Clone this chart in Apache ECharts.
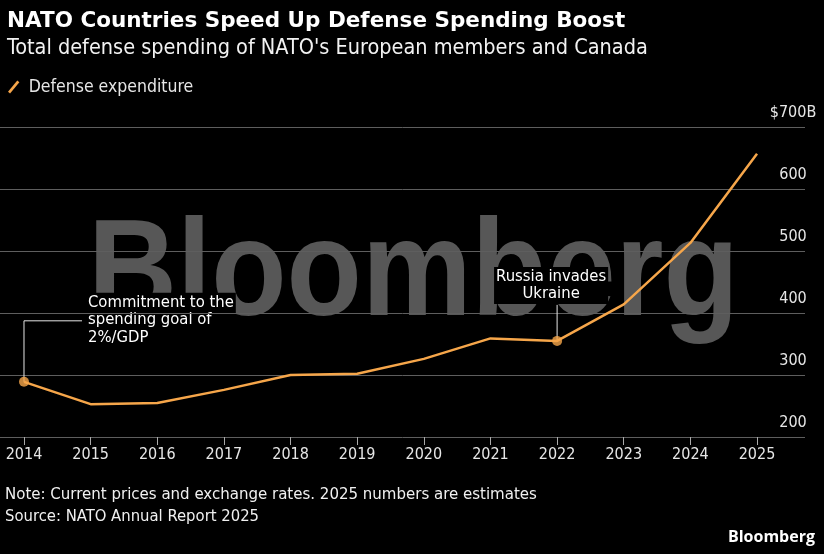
<!DOCTYPE html>
<html>
<head>
<meta charset="utf-8">
<script src="https://cdn.jsdelivr.net/npm/echarts@6/dist/echarts.min.js"></script>
<style>
html,body{margin:0;padding:0;background:#000;}
#c{width:824px;height:554px;}
</style>
</head>
<body>
<div id="c"></div>
<script>
var years = [2014, 2015, 2016, 2017, 2018, 2019, 2020, 2021, 2022, 2023, 2024, 2025];
var spending = [289, 253, 255, 276, 300, 302, 326, 359, 355, 414, 513, 657];
var yTicks = [200, 300, 400, 500, 600, 700];
var annotations = [
  {year: 2014, text: 'Commitment to the\nspending goal of\n2%/GDP'},
  {year: 2022, text: 'Russia invades\nUkraine'}
];

var FONT = "'DejaVu Sans Condensed', 'DejaVu Sans', sans-serif";
var ORANGE = '#F6A64A';

var chart = echarts.init(document.getElementById('c'), null, {renderer: 'canvas'});

var lineData = years.map(function (y, i) { return [y, spending[i]]; });
var annotData = annotations.map(function (a) {
  return [a.year, spending[years.indexOf(a.year)]];
});

var option = {
  backgroundColor: '#000',
  animation: false,
  title: {
    text: 'NATO Countries Speed Up Defense Spending Boost',
    subtext: "Total defense spending of NATO's European members and Canada",
    left: 2, top: 5,
    itemGap: 5,
    textStyle: {color: '#fff', fontFamily: "'DejaVu Sans', sans-serif", fontWeight: 'bold', fontSize: 21.5},
    subtextStyle: {color: '#f2f2f2', fontFamily: FONT, fontSize: 21.5}
  },
  legend: {
    left: 3, top: 73,
    itemWidth: 12, itemHeight: 13, itemGap: 10,
    data: [{name: 'Defense expenditure', icon: 'path://M0,11 L9,0 L11,1.6 L2,12.6 Z'}],
    textStyle: {color: '#e6e6e6', fontFamily: FONT, fontSize: 17.5, padding: [0, 0, 0, 4]}
  },
  grid: {left: 0, right: 19, top: 127, bottom: 117, containLabel: false},
  xAxis: {
    type: 'value',
    min: 2013.64, max: 2025.72,
    axisLine: {show: false},
    splitLine: {show: false},
    axisTick: {show: true, length: 8, customValues: years, lineStyle: {color: '#aaa', width: 1}},
    axisLabel: {customValues: years, color: '#e6e6e6', fontFamily: FONT, fontSize: 16, margin: 10,
      formatter: function (v) { return String(v); }}
  },
  yAxis: {
    type: 'value',
    position: 'right',
    min: 200, max: 700, interval: 100,
    axisLine: {show: false},
    axisTick: {show: false},
    splitLine: {show: true, lineStyle: {color: '#5e5e5e', width: 1}},
    axisLabel: {
      inside: true, align: 'center', verticalAlign: 'bottom', margin: 12,
      padding: [0, 0, 6, 0],
      color: '#e6e6e6', fontFamily: FONT, fontSize: 16,
      formatter: function (v) { return v === 700 ? '$700B' : String(v); }
    }
  },
  graphic: [
    {
      type: 'text', x: 88, y: 209, scaleX: 0.9, z: -10, silent: true,
      style: {text: 'Bloomberg', fill: '#575757', font: 'bold 137px "Liberation Sans", Arial, sans-serif'}
    },
    {
      type: 'text', left: 5, top: 486,
      style: {text: 'Note: Current prices and exchange rates. 2025 numbers are estimates', fill: '#f0f0f0', font: '16.7px ' + FONT}
    },
    {
      type: 'text', left: 5, top: 508,
      style: {text: 'Source: NATO Annual Report 2025', fill: '#f0f0f0', font: '16.5px ' + FONT}
    },
    {
      type: 'text', right: 9, top: 529,
      style: {text: 'Bloomberg', fill: '#fff', font: 'bold 16px "Open Sans", ' + FONT}
    }
  ],
  series: [
    {
      name: 'Defense expenditure',
      type: 'line',
      data: lineData,
      symbol: 'none',
      itemStyle: {color: ORANGE},
      lineStyle: {color: ORANGE, width: 2.5},
      z: 3
    },
    {
      name: 'annot',
      type: 'scatter',
      data: annotData,
      symbol: 'circle',
      symbolSize: 10,
      itemStyle: {color: ORANGE},
      z: 4
    }
  ]
};
chart.setOption(option);

// annotations anchored to data points
var p0 = chart.convertToPixel({gridIndex: 0}, annotData[0]);
var p1 = chart.convertToPixel({gridIndex: 0}, annotData[1]);
var extra = option.graphic.slice();
extra.push(
  {type: 'polyline', z: 1, silent: true,
   shape: {points: [[p0[0], p0[1]], [p0[0], p0[1] - 61], [p0[0] + 58, p0[1] - 61]]},
   style: {stroke: '#e6e6e6', lineWidth: 1, fill: null}},
  {type: 'text', x: p0[0] + 62, y: p0[1] - 89, z: -5,
   style: {text: annotations[0].text, fill: '#fff', font: '16.5px ' + FONT, lineHeight: 17.5,
           verticalAlign: 'top', backgroundColor: '#000', padding: [1, 2, 1, 2]}},
  {type: 'line', z: 1, silent: true,
   shape: {x1: p1[0], y1: p1[1] - 36, x2: p1[0], y2: p1[1]},
   style: {stroke: '#e6e6e6', lineWidth: 1}},
  {type: 'text', x: p1[0] - 6, y: p1[1] - 74, z: -5,
   style: {text: annotations[1].text, fill: '#fff', font: '16.5px ' + FONT, lineHeight: 17.5,
           align: 'center', verticalAlign: 'top', backgroundColor: '#000', padding: [1, 2, 1, 2]}}
);
chart.setOption({graphic: extra}, {replaceMerge: ['graphic']});
</script>
</body>
</html>
